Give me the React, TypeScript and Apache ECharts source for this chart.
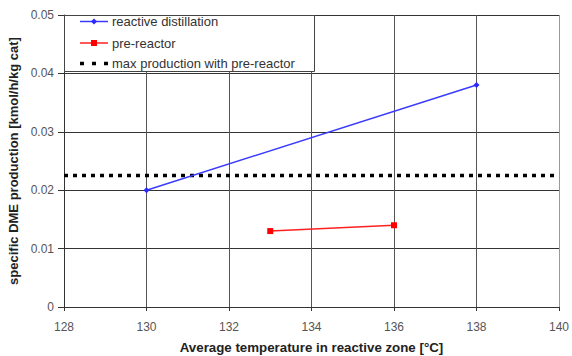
import React, { useEffect, useRef } from "react";
import * as echarts from "echarts";

const reactiveDistillation: [number, number][] = [
  [130, 0.02],
  [138, 0.038],
];
const preReactor: [number, number][] = [
  [133, 0.013],
  [136, 0.014],
];
const maxProduction: [number, number][] = [
  [128, 0.0225],
  [140, 0.0225],
];
const seriesNames = ["reactive distillation", "pre-reactor", "max production with pre-reactor"];

export default function App() {
  const ref = useRef<HTMLDivElement>(null);
  useEffect(() => {
    if (!ref.current) return;
    const chart = echarts.init(ref.current, null, { renderer: "svg" });
    const font = "'Liberation Sans', Arial, sans-serif";
    const rowY = [21.5, 43, 63.5];
    const legendText = (i: number) => ({
      type: "text",
      x: 112,
      y: rowY[i],
      z: 12,
      style: {
        text: seriesNames[i],
        fontFamily: font,
        fontSize: 13,
        fill: "#333",
        verticalAlign: "middle",
        align: "left",
      },
    });
    chart.setOption({
      animation: false,
      backgroundColor: "#ffffff",
      textStyle: { fontFamily: font },
      grid: { left: 64, right: 13, top: 15, bottom: 49, containLabel: false, outerBoundsMode: "none" },
      xAxis: {
        type: "value",
        min: 128,
        max: 140,
        interval: 2,
        name: "Average temperature in reactive zone [°C]",
        nameLocation: "middle",
        nameGap: 34,
        nameTextStyle: { fontFamily: font, fontWeight: "bold", fontSize: 13.3, color: "#222" },
        axisLine: { show: true, lineStyle: { color: "#333", width: 1 } },
        axisTick: { show: true, length: 4, lineStyle: { color: "#333" } },
        axisLabel: { color: "#555", fontSize: 12, margin: 14, fontFamily: font },
        splitLine: { show: true, lineStyle: { color: "#555", width: 1 } },
      },
      yAxis: {
        type: "value",
        min: 0,
        max: 0.05,
        interval: 0.01,
        name: "specific DME production [kmol/h/kg cat]",
        nameLocation: "middle",
        nameGap: 43,
        nameTextStyle: { fontFamily: font, fontWeight: "bold", fontSize: 13, color: "#222" },
        axisLine: { show: true, lineStyle: { color: "#333", width: 1 } },
        axisTick: { show: true, length: 6, lineStyle: { color: "#333" } },
        axisLabel: { color: "#555", fontSize: 12, margin: 10, fontFamily: font },
        splitLine: { show: true, lineStyle: { color: "#333", width: 1 } },
      },
      graphic: [
        {
          type: "line",
          shape: { x1: 559.5, y1: 15, x2: 559.5, y2: 307 },
          style: { stroke: "#999", lineWidth: 1 },
          z: 9,
        },
        {
          type: "rect",
          shape: { x: 64.5, y: 15.5, width: 250, height: 56 },
          style: { fill: "#ffffff", stroke: "#444", lineWidth: 1 },
          z: 10,
        },
        {
          type: "line",
          shape: { x1: 80, y1: rowY[0], x2: 108, y2: rowY[0] },
          style: { stroke: "#3a3aff", lineWidth: 1.5 },
          z: 11,
        },
        {
          type: "polygon",
          shape: { points: [[94, rowY[0] - 3], [97, rowY[0]], [94, rowY[0] + 3], [91, rowY[0]]] },
          style: { fill: "#2a2aff" },
          z: 12,
        },
        {
          type: "line",
          shape: { x1: 80, y1: rowY[1], x2: 108, y2: rowY[1] },
          style: { stroke: "#ff2020", lineWidth: 1.5 },
          z: 11,
        },
        {
          type: "rect",
          shape: { x: 91, y: rowY[1] - 3, width: 6, height: 6 },
          style: { fill: "#ff0000" },
          z: 12,
        },
        {
          type: "line",
          shape: { x1: 80, y1: rowY[2], x2: 108, y2: rowY[2] },
          style: { stroke: "#000", lineWidth: 3.5, lineDash: [4, 8] },
          z: 11,
        },
        legendText(0),
        legendText(1),
        legendText(2),
      ],
      series: [
        {
          name: seriesNames[0],
          type: "line",
          data: reactiveDistillation,
          symbol: "diamond",
          symbolSize: 6,
          lineStyle: { color: "#3a3aff", width: 1.5 },
          itemStyle: { color: "#2a2aff" },
          z: 5,
        },
        {
          name: seriesNames[1],
          type: "line",
          data: preReactor,
          symbol: "rect",
          symbolSize: 6,
          lineStyle: { color: "#ff2020", width: 1.5 },
          itemStyle: { color: "#ff0000" },
          z: 5,
        },
        {
          name: seriesNames[2],
          type: "line",
          data: maxProduction,
          symbol: "none",
          lineStyle: { color: "#000", width: 3.5, type: [4, 5] },
          itemStyle: { color: "#000" },
          z: 4,
        },
      ],
    });
    return () => chart.dispose();
  }, []);
  return <div ref={ref} style={{ width: 572, height: 356, position: "absolute", left: 0, top: 0 }} />;
}
